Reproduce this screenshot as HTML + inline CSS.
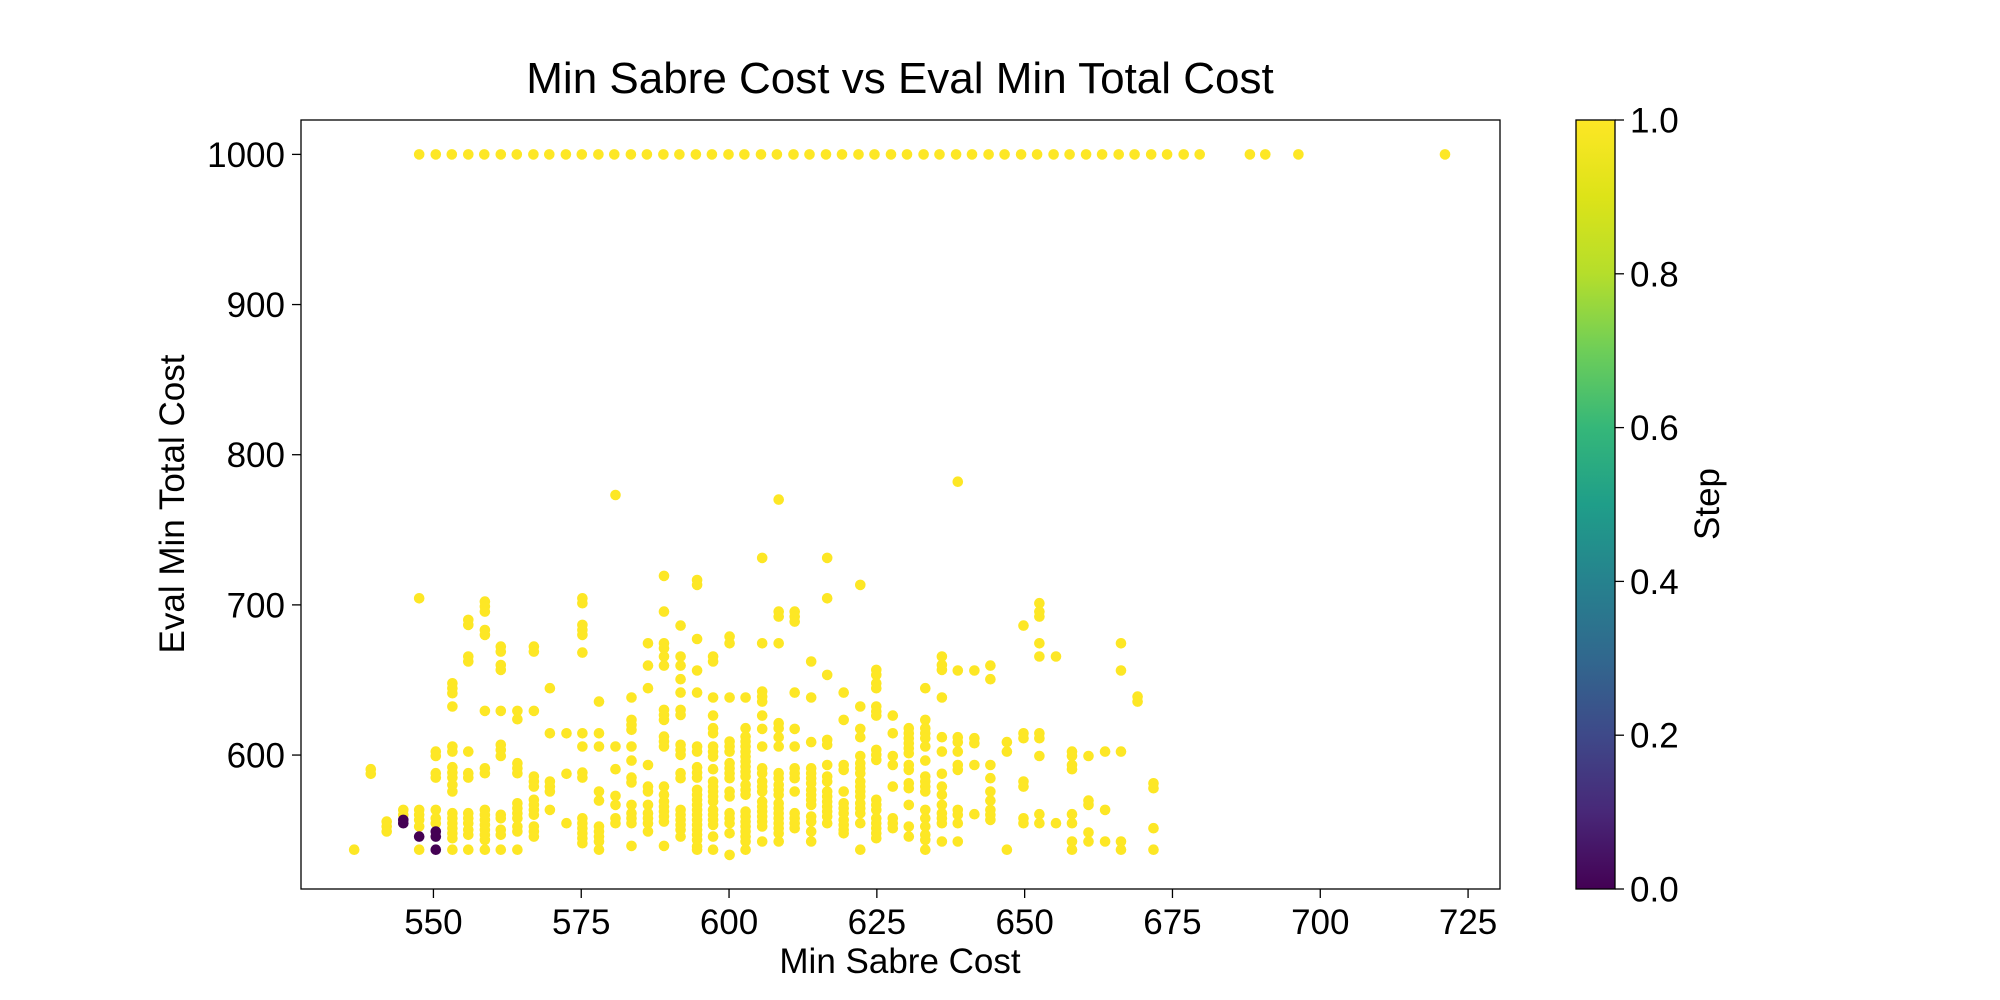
<!DOCTYPE html>
<html><head><meta charset="utf-8"><style>
html,body{margin:0;padding:0;background:#fff;}
svg{display:block;font-family:"Liberation Sans","DejaVu Sans",sans-serif;}
</style></head><body>
<svg id="chart" width="2000" height="1000" viewBox="0 0 2000 1000" xmlns="http://www.w3.org/2000/svg">
<defs>
<linearGradient id="viridis" x1="0" y1="1" x2="0" y2="0">
<stop offset="0" stop-color="#440154"/><stop offset="0.1" stop-color="#482878"/><stop offset="0.2" stop-color="#3e4989"/><stop offset="0.3" stop-color="#31688e"/><stop offset="0.4" stop-color="#26828e"/><stop offset="0.5" stop-color="#1f9e89"/><stop offset="0.6" stop-color="#35b779"/><stop offset="0.7" stop-color="#6ece58"/><stop offset="0.8" stop-color="#b5de2b"/><stop offset="0.9" stop-color="#dde318"/><stop offset="1" stop-color="#fde725"/>
</linearGradient>
</defs>
<text x="900" y="93" font-size="44" text-anchor="middle">Min Sabre Cost vs Eval Min Total Cost</text>
<g id="points"></g>
<rect x="301" y="120" width="1199" height="769" fill="none" stroke="#000" stroke-width="1.3"/>
<g id="xticks"></g>
<g id="yticks"></g>
<text x="900" y="973" font-size="35" text-anchor="middle">Min Sabre Cost</text>
<text x="0" y="0" font-size="35" text-anchor="middle" transform="translate(184,504) rotate(-90)">Eval Min Total Cost</text>
<rect x="1576" y="120" width="39" height="769" fill="url(#viridis)" stroke="#000" stroke-width="1.3"/>
<g id="cticks"></g>
<text x="0" y="0" font-size="35" text-anchor="middle" transform="translate(1719,504) rotate(-90)">Step</text>
</svg>
<script>
const xTicks = [550,575,600,625,650,675,700,725];
const yTicks = [600,700,800,900,1000];
const cTicks = [0.0,0.2,0.4,0.6,0.8,1.0];
const topRowX = [547.6,550.4,553.1,555.9,558.6,561.4,564.1,566.9,569.6,572.4,575.1,577.9,580.6,583.4,586.1,588.9,591.6,594.4,597.1,599.9,602.6,605.4,608.1,610.9,613.6,616.4,619.1,621.9,624.6,627.4,630.1,632.9,635.6,638.4,641.1,643.9,646.6,649.4,652.1,654.9,657.6,660.4,663.1,665.9,668.6,671.4,674.1,676.9,679.6,688.1,690.7,696.3,721.1];
const topRowY = 1000;
const colX = [536.6,539.4,542.1,544.9,547.6,550.4,553.2,555.9,558.7,561.4,564.2,567.0,569.7,572.5,575.2,578.0,580.8,583.5,586.3,589.0,591.8,594.6,597.3,600.1,602.8,605.6,608.4,611.1,613.9,616.6,619.4,622.2,624.9,627.7,630.4,633.2,636.0,638.7,641.5,644.2,647.0,649.8,652.5,655.3,658.0,660.8,663.6,666.3,669.1,671.8];
const colY = [
[537],
[590.6,587.5],
[555.7,552.4,549.1],
[563.5,560.2],
[704.4,563.5,560.2,556.8,552.4,537],
[602.3,599.4,587.9,585,563.5,557.9,554.6],
[647.8,644.5,641.2,632.3,605.7,602.3,591.9,588.3,585,580.1,575.7,561.3,557.9,554.6,551.3,547.9,544.6,537],
[690,686.7,665.6,662.3,602.3,587.9,585,561.3,557.9,554.6,550.2,546.9,537],
[702.2,698.9,695.5,683.3,680,629.4,591.2,587.9,563.5,560.2,556.8,553.5,550.2,546.9,543.5,537],
[672.2,668.9,660,656.7,629.4,606.8,603.4,599.4,560.2,557.9,550.2,546.9,537],
[629.4,623.9,594.6,591.2,587.9,567.9,564.6,561.3,557.9,552.4,549.1,537],
[672.2,668.9,629.4,585.7,582.4,579,570.2,566.8,563.5,560.2,552.4,549.1,545.7],
[644.5,614.5,582.4,579,575.7,563.5],
[614.5,587.5,554.6],
[704.4,701.1,686.7,683.3,680,668.2,614.5,605.7,588.3,585,557.9,554.6,551.3,547.9,544.6,541.3],
[635.6,614.5,605.7,575.7,569.7,552.4,549.1,545.7,542.4,537],
[773.2,605.7,590.6,572.8,566.8,557.9,554.6],
[638.3,623.4,620.1,616.8,605.7,596.3,585,581.7,566.8,561.3,557.9,554.6,539.5],
[674.4,659.6,644.5,593.4,579,575.7,566.8,561.3,557.9,554.6,549.1],
[719.3,695.5,674.4,671.1,665.6,659.6,630.1,626.7,623.4,612.3,609,605.7,579,573.5,569.1,565.7,562.4,559.1,555.7,539.5],
[686.2,665.6,659.6,650.5,641.6,630.1,626.7,606.8,603.4,600.1,587.9,584.6,563.5,560.2,556.8,553.5,550.2,545.7],
[716.6,713.3,677.3,656.3,641.6,605.7,602.3,591.9,588.3,585,576.8,573.5,570.2,566.8,563.5,560.2,556.8,553.5,550.2,546.9,543.5,539.1,537],
[665.6,662.3,638.3,626.3,617.9,614.5,605.7,602.3,599,590.6,582.4,579,575.7,572.4,569.1,563.5,560.2,556.8,553.5,545.7,537],
[678.9,674.4,638.3,609,605.7,602.3,594.6,591.2,587.9,584.6,575.7,572.4,561.3,557.9,554.6,547.9,533.5],
[638.3,617.9,612.3,609,605.7,602.3,599,595.7,592.3,589,585.7,580.1,576.8,573.5,562.4,559.1,555.7,552.4,549.1,545.7,542.4,537],
[731.3,674.4,642.3,638.9,635.6,626.3,617.4,605.7,591.2,587.9,582.4,579,575.7,569,565.7,562.4,559.1,555.7,552.4,542.4],
[770.1,695.5,692.2,674.4,621.2,617.9,611.9,605.7,587.9,584.6,580.1,576.8,573.5,567.9,564.6,561.3,557.9,554.6,551.3,547.9,542.4],
[695.5,692.2,688.9,641.6,617.4,605.7,591.2,587.9,584.6,575.7,561.3,557.9,554.6,551.3],
[662.3,638.3,608.6,591.2,587.9,584.6,581.2,576.8,573.5,570.2,566.8,559.1,555.7,549.1,542.4],
[731.3,704.4,653.4,610.1,606.8,593.4,585.7,582.4,575.7,572.4,569,565.7,562.4,559.1,554.6],
[641.6,623.4,593.4,590.1,575.7,567.9,564.6,561.3,556.8,553.5,550.2,547.9],
[713.3,632.3,617.4,611.9,599.4,594.6,591.2,587.9,582.4,579,575.7,572.4,567.9,564.6,561.3,554.6,537],
[656.7,653.4,647.8,644.5,632.3,629,626.3,603.4,600.1,596.8,570.2,566.8,563.5,557.9,554.6,551.3,547.9,544.6],
[626.3,614.5,599.4,593.4,579,557.9,554.6,551.3],
[617.9,614.5,611.2,607.9,604.5,601.2,593.4,590.1,581.2,577.9,566.8,552.4,545.7],
[644.5,623.4,617.9,614.5,611.2,605.7,596.3,585.7,582.4,579,575.7,563.5,557.9,552.4,546.9,543.5,537],
[665.6,660,656.7,638.3,611.9,602.3,587.5,579,573.5,566.8,561.3,557.9,554.6,542.4],
[782,656.3,611.9,608.6,602.3,593.4,590.1,563.5,560.2,554.6,542.4],
[656.3,611.2,607.9,593.4,560.6],
[659.6,650.5,593.4,584.6,575.7,569.7,563.5,560.2,556.8],
[608.6,602.3,537],
[686.2,614.5,611.2,582.4,579,557.9,554.6],
[701.1,695.5,692.2,674.4,665.6,614.5,611.2,599.4,560.6,554.6],
[665.6,554.6],
[602.3,599.4,593.4,590.6,560.6,554.6,542.4,537],
[599.4,569.7,566.8,548.4,542.4],
[602.3,563.5,542.4],
[674.4,656.3,602.3,542.4,537],
[638.9,635.6],
[581.2,577.9,551.3,537]
];
const darkX = [544.9,544.9,547.6,550.4,550.4,550.4];
const darkY = [556.8,554.6,545.7,549.1,545.7,537];

const NS = "http://www.w3.org/2000/svg";
const X0=301,X1=1500,Y0=120,Y1=889;
const xMin=527.6,xMax=730.4,yMin=510.8,yMax=1022.9;
function sx(v){return X0+(v-xMin)/(xMax-xMin)*(X1-X0);}
function sy(v){return Y1-(v-yMin)/(yMax-yMin)*(Y1-Y0);}
function mk(tag,attrs,parent){const e=document.createElementNS(NS,tag);for(const k in attrs)e.setAttribute(k,attrs[k]);parent.appendChild(e);return e;}
const gp=document.getElementById('points');
function dot(x,y,c){
  const el=mk('circle',{cx:sx(x).toFixed(1),cy:sy(y).toFixed(1),r:5.3,fill:c},gp);
  
  
}
topRowX.forEach(x=>dot(x,topRowY,'#fde725'));
colX.forEach((x,i)=>{(colY[i]||[]).forEach(y=>dot(x,y,'#fde725'));});
darkX.forEach((x,i)=>dot(x,darkY[i],'#440154'));
const gx=document.getElementById('xticks');
xTicks.forEach(t=>{
  const px=sx(t);
  const l=mk('line',{x1:px,x2:px,y1:Y1,y2:Y1+9,stroke:'#000','stroke-width':1.3},gx);
  
  
  const tx=mk('text',{x:px,y:Y1+45,'font-size':35,'text-anchor':'middle'},gx);
  tx.textContent=t;
  
  
});
const gy=document.getElementById('yticks');
yTicks.forEach(t=>{
  const py=sy(t);
  const l=mk('line',{x1:X0-9,x2:X0,y1:py,y2:py,stroke:'#000','stroke-width':1.3},gy);
  
  
  const tx=mk('text',{x:X0-16,y:py+12.5,'font-size':35,'text-anchor':'end'},gy);
  tx.textContent=t;
  
  
});
const gc=document.getElementById('cticks');
cTicks.forEach(t=>{
  const py=Y1-t*(Y1-Y0);
  const l=mk('line',{x1:1615,x2:1624,y1:py,y2:py,stroke:'#000','stroke-width':1.3},gc);
  
  
  const tx=mk('text',{x:1630,y:py+12.5,'font-size':35},gc);
  tx.textContent=t.toFixed(1);
  
  
});
</script>
</body></html>
